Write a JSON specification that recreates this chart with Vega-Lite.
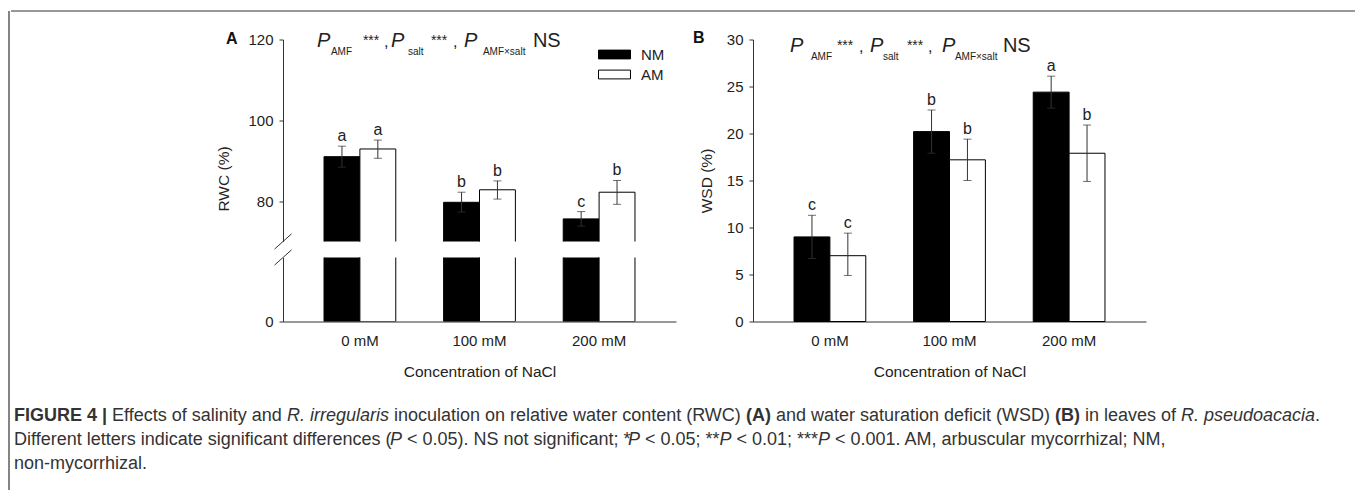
{
  "$schema": "https://vega.github.io/schema/vega-lite/v6.json",
  "padding": {"left": 8, "top": 10, "right": 0, "bottom": 0},
  "autosize": {"type": "pad"},
  "background": "#ffffff",
  "datasets": {
    "rwc": [
      {"conc": "0 mM", "trt": "NM", "v": 91.0, "lo": 88.4, "hi": 93.6, "sig": "a"},
      {"conc": "0 mM", "trt": "AM", "v": 92.9, "lo": 90.6, "hi": 95.1, "sig": "a"},
      {"conc": "100 mM", "trt": "NM", "v": 79.7, "lo": 77.3, "hi": 82.2, "sig": "b"},
      {"conc": "100 mM", "trt": "AM", "v": 82.8, "lo": 80.5, "hi": 85.0, "sig": "b"},
      {"conc": "200 mM", "trt": "NM", "v": 75.6, "lo": 73.8, "hi": 77.4, "sig": "c"},
      {"conc": "200 mM", "trt": "AM", "v": 82.2, "lo": 79.2, "hi": 85.1, "sig": "b"}
    ],
    "wsd": [
      {"conc": "0 mM", "trt": "NM", "v": 9.0, "lo": 6.7, "hi": 11.3, "sig": "c"},
      {"conc": "0 mM", "trt": "AM", "v": 7.0, "lo": 4.9, "hi": 9.4, "sig": "c"},
      {"conc": "100 mM", "trt": "NM", "v": 20.2, "lo": 17.9, "hi": 22.5, "sig": "b"},
      {"conc": "100 mM", "trt": "AM", "v": 17.2, "lo": 15.0, "hi": 19.4, "sig": "b"},
      {"conc": "200 mM", "trt": "NM", "v": 24.4, "lo": 22.7, "hi": 26.1, "sig": "a"},
      {"conc": "200 mM", "trt": "AM", "v": 17.9, "lo": 14.9, "hi": 20.9, "sig": "b"}
    ]
  },
  "config": {
    "view": {"stroke": null},
    "font": "Liberation Sans",
    "axis": {
      "domainColor": "#333333", "tickColor": "#333333", "tickSize": 4, "grid": false,
      "labelFont": "Liberation Sans", "labelFontSize": 15, "labelColor": "#222222", "labelPadding": 6,
      "titleFont": "Liberation Sans", "titleFontSize": 15.5, "titleFontWeight": "normal", "titleColor": "#222222"
    },
    "legend": {
      "orient": "none", "legendX": 597, "legendY": 35, "padding": 0,
      "symbolType": "M-2,-0.55H2V0.55H-2Z", "symbolSize": 256,
      "symbolStrokeColor": "#000000", "symbolStrokeWidth": 1, "symbolOpacity": 1,
      "labelFont": "Liberation Sans", "labelFontSize": 15, "labelColor": "#222222",
      "labelOffset": 18, "rowPadding": 3
    },
    "text": {"color": "#222222"}
  },
  "hconcat": [
    {
      "width": 1, "height": 480,
      "data": {"values": [{}]},
      "mark": {"type": "rule", "color": "#333333", "strokeWidth": 1.2},
      "encoding": {"x": {"value": 0}}
    },
    {
      "vconcat": [
        {
          "width": 1346, "height": 1,
          "data": {"values": [{}]},
          "mark": {"type": "rule", "color": "#333333", "strokeWidth": 1.2},
          "encoding": {"y": {"value": 0}}
        },
        {
          "hconcat": [
            {
              "width": 188, "height": 282,
              "data": {"values": [{}]},
              "mark": {"type": "text", "text": ""}
            },
            {
              "vconcat": [
                {
                  "width": 393, "height": 202,
                  "data": {"name": "rwc"},
                  "title": {"text": "A", "anchor": "start", "frame": "group", "dx": -57, "dy": 24, "offset": 0, "baseline": "middle", "fontSize": 16, "fontWeight": "bold", "color": "#111111"},
                  "encoding": {
                    "x": {"field": "conc", "type": "nominal", "scale": {"domain": ["0 mM", "100 mM", "200 mM"], "paddingInner": 0.4, "paddingOuter": 0.343}, "axis": null},
                    "xOffset": {"field": "trt", "type": "nominal", "scale": {"domain": ["NM", "AM"]}}
                  },
                  "layer": [
                    {
                      "mark": {"type": "bar", "stroke": "#000000", "strokeWidth": 1, "clip": true},
                      "encoding": {
                        "y": {"field": "v", "type": "quantitative", "scale": {"domain": [70, 120], "nice": false, "zero": false},
                              "axis": {"values": [80, 100, 120], "title": "RWC (%)", "titlePadding": 16, "titleY": 139}},
                        "fill": {"field": "trt", "type": "nominal", "scale": {"domain": ["NM", "AM"], "range": ["#000000", "#ffffff"]}, "title": null}
                      }
                    },
                    {
                      "mark": {"type": "rule", "color": "#333333", "strokeWidth": 1},
                      "encoding": {"y": {"field": "hi", "type": "quantitative"}, "y2": {"field": "lo"}}
                    },
                    {
                      "mark": {"type": "tick", "color": "#333333", "thickness": 1, "size": 8},
                      "encoding": {"y": {"field": "hi", "type": "quantitative"}}
                    },
                    {
                      "mark": {"type": "tick", "color": "#333333", "thickness": 1, "size": 8},
                      "encoding": {"y": {"field": "lo", "type": "quantitative"}}
                    },
                    {
                      "mark": {"type": "text", "fontSize": 16, "baseline": "alphabetic", "dy": -5},
                      "encoding": {"y": {"field": "hi", "type": "quantitative"}, "text": {"field": "sig"}}
                    },
                    {
                      "data": {"values": [{}]},
                      "mark": {"type": "point", "shape": "M-1,0.9L1,-0.9", "size": 289, "filled": false, "stroke": "#333333", "strokeWidth": 1, "opacity": 1},
                      "encoding": {"x": {"value": 0}, "xOffset": null, "y": {"datum": 70, "type": "quantitative"}}
                    },
                    {"data": {"values": [{}]}, "mark": {"type": "text", "text": "P", "fontStyle": "italic", "fontSize": 20, "align": "left", "baseline": "alphabetic", "dx": -43},
                     "encoding": {"x": {"datum": "0 mM"}, "xOffset": null, "y": {"datum": 118.14, "type": "quantitative"}}},
                    {"data": {"values": [{}]}, "mark": {"type": "text", "text": "AMF", "fontSize": 10, "align": "left", "baseline": "alphabetic", "dx": -29},
                     "encoding": {"x": {"datum": "0 mM"}, "xOffset": null, "y": {"datum": 116.04, "type": "quantitative"}}},
                    {"data": {"values": [{}]}, "mark": {"type": "text", "text": "***", "fontSize": 14, "align": "left", "baseline": "alphabetic", "dx": 3},
                     "encoding": {"x": {"datum": "0 mM"}, "xOffset": null, "y": {"datum": 118.64, "type": "quantitative"}}},
                    {"data": {"values": [{}]}, "mark": {"type": "text", "text": ",", "fontSize": 16, "align": "left", "baseline": "alphabetic", "dx": 24},
                     "encoding": {"x": {"datum": "0 mM"}, "xOffset": null, "y": {"datum": 118.14, "type": "quantitative"}}},
                    {"data": {"values": [{}]}, "mark": {"type": "text", "text": "P", "fontStyle": "italic", "fontSize": 20, "align": "left", "baseline": "alphabetic", "dx": 31},
                     "encoding": {"x": {"datum": "0 mM"}, "xOffset": null, "y": {"datum": 118.14, "type": "quantitative"}}},
                    {"data": {"values": [{}]}, "mark": {"type": "text", "text": "salt", "fontSize": 10, "align": "left", "baseline": "alphabetic", "dx": 48},
                     "encoding": {"x": {"datum": "0 mM"}, "xOffset": null, "y": {"datum": 116.04, "type": "quantitative"}}},
                    {"data": {"values": [{}]}, "mark": {"type": "text", "text": "***", "fontSize": 14, "align": "left", "baseline": "alphabetic", "dx": 71},
                     "encoding": {"x": {"datum": "0 mM"}, "xOffset": null, "y": {"datum": 118.64, "type": "quantitative"}}},
                    {"data": {"values": [{}]}, "mark": {"type": "text", "text": ",", "fontSize": 16, "align": "left", "baseline": "alphabetic", "dx": 93},
                     "encoding": {"x": {"datum": "0 mM"}, "xOffset": null, "y": {"datum": 118.14, "type": "quantitative"}}},
                    {"data": {"values": [{}]}, "mark": {"type": "text", "text": "P", "fontStyle": "italic", "fontSize": 20, "align": "left", "baseline": "alphabetic", "dx": 104},
                     "encoding": {"x": {"datum": "0 mM"}, "xOffset": null, "y": {"datum": 118.14, "type": "quantitative"}}},
                    {"data": {"values": [{}]}, "mark": {"type": "text", "text": "AMF×salt", "fontSize": 10, "align": "left", "baseline": "alphabetic", "dx": 123},
                     "encoding": {"x": {"datum": "0 mM"}, "xOffset": null, "y": {"datum": 116.04, "type": "quantitative"}}},
                    {"data": {"values": [{}]}, "mark": {"type": "text", "text": "NS", "fontSize": 20, "align": "left", "baseline": "alphabetic", "dx": 173},
                     "encoding": {"x": {"datum": "0 mM"}, "xOffset": null, "y": {"datum": 118.14, "type": "quantitative"}}}
                  ]
                },
                {
                  "width": 393, "height": 64,
                  "data": {"name": "rwc"},
                  "encoding": {
                    "x": {"field": "conc", "type": "nominal", "scale": {"domain": ["0 mM", "100 mM", "200 mM"], "paddingInner": 0.4, "paddingOuter": 0.343},
                          "axis": {"title": "Concentration of NaCl", "ticks": false, "labelAngle": 0, "labelPadding": 12, "titlePadding": 16}},
                    "xOffset": {"field": "trt", "type": "nominal", "scale": {"domain": ["NM", "AM"]}}
                  },
                  "layer": [
                    {
                      "mark": {"type": "bar", "stroke": "#000000", "strokeWidth": 1, "clip": true},
                      "encoding": {
                        "y": {"field": "v", "type": "quantitative", "scale": {"domain": [0, 16], "nice": false}, "axis": {"values": [0], "title": null}},
                        "fill": {"field": "trt", "type": "nominal", "scale": {"domain": ["NM", "AM"], "range": ["#000000", "#ffffff"]}, "title": null}
                      }
                    },
                    {
                      "data": {"values": [{}]},
                      "mark": {"type": "point", "shape": "M-1,0.9L1,-0.9", "size": 289, "filled": false, "stroke": "#333333", "strokeWidth": 1, "opacity": 1},
                      "encoding": {"x": {"value": 0}, "xOffset": null, "y": {"datum": 16, "type": "quantitative"}}
                    }
                  ]
                }
              ],
              "spacing": 16,
              "bounds": "flush"
            },
            {
              "width": 393, "height": 282,
              "data": {"name": "wsd"},
              "title": {"text": "B", "anchor": "start", "frame": "group", "dx": -60, "dy": 21, "offset": 0, "baseline": "middle", "fontSize": 16, "fontWeight": "bold", "color": "#111111"},
              "encoding": {
                "x": {"field": "conc", "type": "nominal", "scale": {"domain": ["0 mM", "100 mM", "200 mM"], "paddingInner": 0.4, "paddingOuter": 0.343},
                      "axis": {"title": "Concentration of NaCl", "ticks": false, "labelAngle": 0, "labelPadding": 12, "titlePadding": 16}},
                "xOffset": {"field": "trt", "type": "nominal", "scale": {"domain": ["NM", "AM"]}}
              },
              "layer": [
                {
                  "mark": {"type": "bar", "stroke": "#000000", "strokeWidth": 1},
                  "encoding": {
                    "y": {"field": "v", "type": "quantitative", "scale": {"domain": [0, 30], "nice": false},
                          "axis": {"values": [0, 5, 10, 15, 20, 25, 30], "title": "WSD (%)", "titlePadding": 12}},
                    "fill": {"field": "trt", "type": "nominal", "scale": {"domain": ["NM", "AM"], "range": ["#000000", "#ffffff"]}, "title": null}
                  }
                },
                {
                  "mark": {"type": "rule", "color": "#333333", "strokeWidth": 1},
                  "encoding": {"y": {"field": "hi", "type": "quantitative"}, "y2": {"field": "lo"}}
                },
                {
                  "mark": {"type": "tick", "color": "#333333", "thickness": 1, "size": 8},
                  "encoding": {"y": {"field": "hi", "type": "quantitative"}}
                },
                {
                  "mark": {"type": "tick", "color": "#333333", "thickness": 1, "size": 8},
                  "encoding": {"y": {"field": "lo", "type": "quantitative"}}
                },
                {
                  "mark": {"type": "text", "fontSize": 16, "baseline": "alphabetic", "dy": -5},
                  "encoding": {"y": {"field": "hi", "type": "quantitative"}, "text": {"field": "sig"}}
                },
                {"data": {"values": [{}]}, "mark": {"type": "text", "text": "P", "fontStyle": "italic", "fontSize": 20, "align": "left", "baseline": "alphabetic", "dx": -40},
                 "encoding": {"x": {"datum": "0 mM"}, "xOffset": null, "y": {"datum": 28.72, "type": "quantitative"}}},
                {"data": {"values": [{}]}, "mark": {"type": "text", "text": "AMF", "fontSize": 10, "align": "left", "baseline": "alphabetic", "dx": -19},
                 "encoding": {"x": {"datum": "0 mM"}, "xOffset": null, "y": {"datum": 27.8, "type": "quantitative"}}},
                {"data": {"values": [{}]}, "mark": {"type": "text", "text": "***", "fontSize": 14, "align": "left", "baseline": "alphabetic", "dx": 7},
                 "encoding": {"x": {"datum": "0 mM"}, "xOffset": null, "y": {"datum": 28.93, "type": "quantitative"}}},
                {"data": {"values": [{}]}, "mark": {"type": "text", "text": ",", "fontSize": 16, "align": "left", "baseline": "alphabetic", "dx": 29},
                 "encoding": {"x": {"datum": "0 mM"}, "xOffset": null, "y": {"datum": 28.72, "type": "quantitative"}}},
                {"data": {"values": [{}]}, "mark": {"type": "text", "text": "P", "fontStyle": "italic", "fontSize": 20, "align": "left", "baseline": "alphabetic", "dx": 40},
                 "encoding": {"x": {"datum": "0 mM"}, "xOffset": null, "y": {"datum": 28.72, "type": "quantitative"}}},
                {"data": {"values": [{}]}, "mark": {"type": "text", "text": "salt", "fontSize": 10, "align": "left", "baseline": "alphabetic", "dx": 53},
                 "encoding": {"x": {"datum": "0 mM"}, "xOffset": null, "y": {"datum": 27.8, "type": "quantitative"}}},
                {"data": {"values": [{}]}, "mark": {"type": "text", "text": "***", "fontSize": 14, "align": "left", "baseline": "alphabetic", "dx": 77},
                 "encoding": {"x": {"datum": "0 mM"}, "xOffset": null, "y": {"datum": 28.93, "type": "quantitative"}}},
                {"data": {"values": [{}]}, "mark": {"type": "text", "text": ",", "fontSize": 16, "align": "left", "baseline": "alphabetic", "dx": 98},
                 "encoding": {"x": {"datum": "0 mM"}, "xOffset": null, "y": {"datum": 28.72, "type": "quantitative"}}},
                {"data": {"values": [{}]}, "mark": {"type": "text", "text": "P", "fontStyle": "italic", "fontSize": 20, "align": "left", "baseline": "alphabetic", "dx": 112},
                 "encoding": {"x": {"datum": "0 mM"}, "xOffset": null, "y": {"datum": 28.72, "type": "quantitative"}}},
                {"data": {"values": [{}]}, "mark": {"type": "text", "text": "AMF×salt", "fontSize": 10, "align": "left", "baseline": "alphabetic", "dx": 125},
                 "encoding": {"x": {"datum": "0 mM"}, "xOffset": null, "y": {"datum": 27.8, "type": "quantitative"}}},
                {"data": {"values": [{}]}, "mark": {"type": "text", "text": "NS", "fontSize": 20, "align": "left", "baseline": "alphabetic", "dx": 173},
                 "encoding": {"x": {"datum": "0 mM"}, "xOffset": null, "y": {"datum": 28.72, "type": "quantitative"}}}
              ]
            }
          ],
          "spacing": 17
        },
        {
          "width": 1346, "height": 75,
          "data": {"values": [{}]},
          "layer": [
            {"mark": {"type": "text", "text": "FIGURE 4 |", "fontWeight": "bold", "fontSize": 18, "align": "left", "baseline": "alphabetic", "color": "#333333"},
             "encoding": {"x": {"value": 3}, "y": {"value": 23}}},
            {"mark": {"type": "text", "text": "Effects of salinity and", "fontSize": 18, "align": "left", "baseline": "alphabetic", "color": "#333333"},
             "encoding": {"x": {"value": 101}, "y": {"value": 23}}},
            {"mark": {"type": "text", "text": "R. irregularis", "fontStyle": "italic", "fontSize": 18, "align": "left", "baseline": "alphabetic", "color": "#333333"},
             "encoding": {"x": {"value": 276}, "y": {"value": 23}}},
            {"mark": {"type": "text", "text": "inoculation on relative water content (RWC)", "fontSize": 18, "align": "left", "baseline": "alphabetic", "color": "#333333"},
             "encoding": {"x": {"value": 383}, "y": {"value": 23}}},
            {"mark": {"type": "text", "text": "(A)", "fontWeight": "bold", "fontSize": 18, "align": "left", "baseline": "alphabetic", "color": "#333333"},
             "encoding": {"x": {"value": 735}, "y": {"value": 23}}},
            {"mark": {"type": "text", "text": "and water saturation deficit (WSD)", "fontSize": 18, "align": "left", "baseline": "alphabetic", "color": "#333333"},
             "encoding": {"x": {"value": 765}, "y": {"value": 23}}},
            {"mark": {"type": "text", "text": "(B)", "fontWeight": "bold", "fontSize": 18, "align": "left", "baseline": "alphabetic", "color": "#333333"},
             "encoding": {"x": {"value": 1044}, "y": {"value": 23}}},
            {"mark": {"type": "text", "text": "in leaves of", "fontSize": 18, "align": "left", "baseline": "alphabetic", "color": "#333333"},
             "encoding": {"x": {"value": 1074}, "y": {"value": 23}}},
            {"mark": {"type": "text", "text": "R. pseudoacacia", "fontStyle": "italic", "fontSize": 18, "align": "left", "baseline": "alphabetic", "color": "#333333"},
             "encoding": {"x": {"value": 1170}, "y": {"value": 23}}},
            {"mark": {"type": "text", "text": ".", "fontSize": 18, "align": "left", "baseline": "alphabetic", "color": "#333333"},
             "encoding": {"x": {"value": 1304}, "y": {"value": 23}}},
            {"mark": {"type": "text", "text": "Different letters indicate significant differences (", "fontSize": 18, "align": "left", "baseline": "alphabetic", "color": "#333333"},
             "encoding": {"x": {"value": 3}, "y": {"value": 47}}},
            {"mark": {"type": "text", "text": "P", "fontStyle": "italic", "fontSize": 18, "align": "left", "baseline": "alphabetic", "color": "#333333"},
             "encoding": {"x": {"value": 379}, "y": {"value": 47}}},
            {"mark": {"type": "text", "text": "< 0.05). NS not significant; *", "fontSize": 18, "align": "left", "baseline": "alphabetic", "color": "#333333"},
             "encoding": {"x": {"value": 396}, "y": {"value": 47}}},
            {"mark": {"type": "text", "text": "P", "fontStyle": "italic", "fontSize": 18, "align": "left", "baseline": "alphabetic", "color": "#333333"},
             "encoding": {"x": {"value": 617}, "y": {"value": 47}}},
            {"mark": {"type": "text", "text": "< 0.05; **", "fontSize": 18, "align": "left", "baseline": "alphabetic", "color": "#333333"},
             "encoding": {"x": {"value": 634}, "y": {"value": 47}}},
            {"mark": {"type": "text", "text": "P", "fontStyle": "italic", "fontSize": 18, "align": "left", "baseline": "alphabetic", "color": "#333333"},
             "encoding": {"x": {"value": 708.5}, "y": {"value": 47}}},
            {"mark": {"type": "text", "text": "< 0.01; ***", "fontSize": 18, "align": "left", "baseline": "alphabetic", "color": "#333333"},
             "encoding": {"x": {"value": 725.5}, "y": {"value": 47}}},
            {"mark": {"type": "text", "text": "P", "fontStyle": "italic", "fontSize": 18, "align": "left", "baseline": "alphabetic", "color": "#333333"},
             "encoding": {"x": {"value": 807}, "y": {"value": 47}}},
            {"mark": {"type": "text", "text": "< 0.001. AM, arbuscular mycorrhizal; NM,", "fontSize": 18, "align": "left", "baseline": "alphabetic", "color": "#333333"},
             "encoding": {"x": {"value": 824}, "y": {"value": 47}}},
            {"mark": {"type": "text", "text": "non-mycorrhizal.", "fontSize": 18, "align": "left", "baseline": "alphabetic", "color": "#333333"},
             "encoding": {"x": {"value": 3}, "y": {"value": 71}}}
          ]
        }
      ],
      "spacing": 17.5
    }
  ],
  "spacing": 0
}
